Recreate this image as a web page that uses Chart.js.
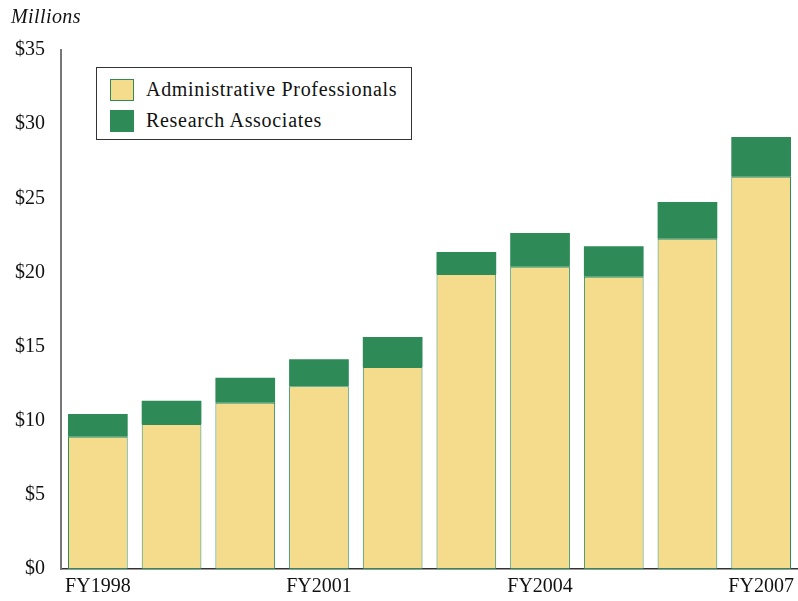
<!DOCTYPE html>
<html>
<head>
<meta charset="utf-8">
<script src="https://cdn.jsdelivr.net/npm/chart.js@4.4.1/dist/chart.umd.min.js"></script>
<style>
  html, body { margin: 0; padding: 0; background: #fff; }
  #wrap { position: relative; width: 798px; height: 601px; }
  #title { position: absolute; left: 11px; top: 5px; font-family: "Liberation Serif", "Times New Roman", Tinos, "DejaVu Serif", serif; font-style: italic; font-size: 20px; color: #111; letter-spacing: 0.4px; }
  #legend { position: absolute; left: 96px; top: 67px; width: 314px; height: 71px; border: 1px solid #333; background: #fff; font-family: "Liberation Serif", "Times New Roman", Tinos, "DejaVu Serif", serif; font-size: 20px; color: #111; letter-spacing: 0.7px; }
  .item { position: absolute; left: 13px; display: flex; align-items: center; }
  .sw { width: 24px; height: 22px; border: 1px solid #2E8B57; margin-right: 12px; box-sizing: border-box; }
</style>
</head>
<body>
<div id="wrap">
  <canvas id="c" width="798" height="601"></canvas>
  <div id="title">Millions</div>
  <div id="legend">
    <div class="item" style="top:10px;"><div class="sw" id="sw0"></div><span id="lb0"></span></div>
    <div class="item" style="top:41px;"><div class="sw" id="sw1"></div><span id="lb1"></span></div>
  </div>
</div>
<script>
const categories = ["FY1998","FY1999","FY2000","FY2001","FY2002","FY2003","FY2004","FY2005","FY2006","FY2007"];
const seriesNames = ["Administrative Professionals", "Research Associates"];
const adminValues = [8.92, 9.78, 11.21, 12.32, 13.62, 19.89, 20.39, 19.71, 22.27, 26.46];
const researchValues = [1.53, 1.57, 1.69, 1.82, 2.03, 1.49, 2.27, 2.05, 2.48, 2.67];
const yTicks = [0, 5, 10, 15, 20, 25, 30, 35];

const colors = ["#F4DC8C", "#2E8B57"];
const edge = "#2E8B57";
const fontFamily = '"Liberation Serif", "Times New Roman", Tinos, "DejaVu Serif", serif';

document.getElementById('sw0').style.background = colors[0];
document.getElementById('sw1').style.background = colors[1];
document.getElementById('lb0').textContent = seriesNames[0];
document.getElementById('lb1').textContent = seriesNames[1];

new Chart(document.getElementById('c'), {
  type: 'bar',
  data: {
    labels: categories,
    datasets: [
      { label: seriesNames[0], data: adminValues, backgroundColor: colors[0], borderColor: edge, borderWidth: 1, borderSkipped: false, barPercentage: 0.81, categoryPercentage: 1.0 },
      { label: seriesNames[1], data: researchValues, backgroundColor: colors[1], borderColor: edge, borderWidth: 0, borderSkipped: false, barPercentage: 0.81, categoryPercentage: 1.0 }
    ]
  },
  options: {
    responsive: false,
    animation: false,
    layout: { padding: { top: 50, right: 0, left: 0, bottom: 0 } },
    plugins: { legend: { display: false }, title: { display: false }, tooltip: { enabled: false } },
    scales: {
      x: {
        stacked: true,
        grid: { display: false, drawTicks: false },
        border: { display: true, color: '#333', width: 1.5 },
        ticks: {
          autoSkip: false, maxRotation: 0, padding: 6, color: '#111',
          font: { family: fontFamily, size: 20 },
          callback: function(v, i) { return i % 3 === 0 ? categories[i] : ''; }
        },
        afterFit: function(s) { s.height = 32; s.paddingRight = 0; s.paddingLeft = 0; }
      },
      y: {
        stacked: true,
        min: 0, max: 35,
        grid: { display: false, drawTicks: false },
        border: { display: true, color: '#777', width: 2 },
        afterBuildTicks: function(s) { s.ticks = yTicks.map(v => ({ value: v })); },
        ticks: {
          padding: 16, color: '#111',
          font: { family: fontFamily, size: 20 },
          callback: function(v) { return '$' + v; }
        },
        afterFit: function(s) { s.width = 61; }
      }
    }
  }
});
</script>
</body>
</html>
